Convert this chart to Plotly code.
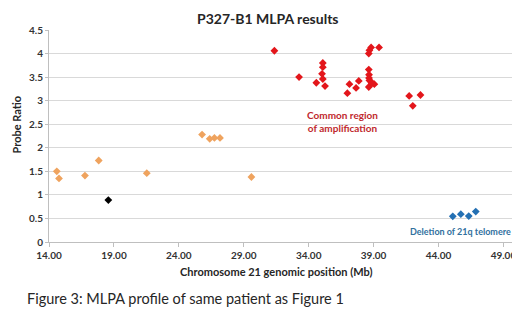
import plotly.graph_objects as go

orange_x = [14.6, 14.77, 16.77, 17.83, 21.53, 25.79, 26.38, 26.74, 27.17, 29.59]
orange_y = [1.50, 1.35, 1.41, 1.73, 1.46, 2.28, 2.19, 2.21, 2.21, 1.38]

black_x = [18.57]
black_y = [0.89]

red_x = [31.36, 33.26, 35.09, 35.09, 35.03, 35.09, 34.59, 35.26, 36.98, 37.14, 37.65,
         37.86, 38.63, 38.63, 38.65, 38.65, 38.68, 38.81, 39.06, 38.86, 38.63, 38.68,
         38.81, 39.42, 41.74, 42.02, 42.61]
red_y = [4.06, 3.50, 3.80, 3.71, 3.57, 3.46, 3.38, 3.31, 3.16, 3.35, 3.27,
         3.42, 3.29, 3.66, 3.55, 3.48, 3.43, 3.40, 3.35, 3.36, 4.00, 4.07,
         4.13, 4.13, 3.10, 2.89, 3.12]

blue_x = [45.10, 45.72, 46.33, 46.87]
blue_y = [0.545, 0.59, 0.55, 0.645]

x_ticks = [14, 19, 24, 29, 34, 39, 44, 49]
y_ticks = [0, 0.5, 1, 1.5, 2, 2.5, 3, 3.5, 4, 4.5]

FONT = "Lato, 'Open Sans', sans-serif"

fig = go.Figure()
for xs, ys, col in [(orange_x, orange_y, "#EFA35E"), (black_x, black_y, "#000000"),
                    (red_x, red_y, "#E3161B"), (blue_x, blue_y, "#2470B3")]:
    fig.add_trace(go.Scatter(x=xs, y=ys, mode="markers",
                             marker=dict(symbol="diamond", size=6, color=col, line=dict(width=0)),
                             showlegend=False))

OFF = 8  # page body margin
W, H = 520 - OFF, 315 - OFF
PL, PT, PW, PH = 49 - OFF, 30 - OFF, 470, 212

fig.update_layout(
    template="none",
    width=W, height=H,
    margin=dict(l=PL, r=W - PL - PW, t=PT, b=H - PT - PH, autoexpand=False),
    paper_bgcolor="white", plot_bgcolor="white",
    font=dict(family=FONT, color="#262626"),
    xaxis=dict(range=[14, 50.2], tickvals=x_ticks, tickformat=".2f", automargin=False,
               ticklabeloverflow="allow",
               showgrid=False, zeroline=False, showline=True, linecolor="#bfbfbf",
               ticks="outside", ticklen=4, tickcolor="#bfbfbf",
               tickfont=dict(size=10, family=FONT, color="#333333", weight="bold")),
    yaxis=dict(range=[0, 4.5], tickvals=y_ticks, tickformat="~g", automargin=False,
               showgrid=True, gridcolor="#d9d9d9", zeroline=False,
               showline=True, linecolor="#bfbfbf",
               ticks="outside", ticklen=3, tickcolor="#bfbfbf",
               tickfont=dict(size=10, family=FONT, color="#333333", weight="bold")),
)

def px(x):
    return (x - OFF - PL) / PW

def py(y):
    return (PT + PH - (y - OFF)) / PH

fig.add_annotation(text="<b>P327-B1 MLPA results</b>", xref="paper", yref="paper",
                   x=px(268), y=py(8), showarrow=False,
                   font=dict(size=14, color="#262626", family=FONT), xanchor="center", yanchor="top")
fig.add_annotation(text="<b>Chromosome 21 genomic position (Mb)</b>", xref="paper", yref="paper",
                   x=px(276), y=py(271), showarrow=False,
                   font=dict(size=11, color="#262626", family=FONT), xanchor="center", yanchor="middle")
fig.add_annotation(text="<b>Probe Ratio</b>", xref="paper", yref="paper", textangle=-90,
                   x=px(8), y=py(125), showarrow=False,
                   font=dict(size=11, color="#262626", family=FONT), xanchor="left", yanchor="middle")
fig.add_annotation(text="Figure 3: MLPA profile of same patient as Figure 1", xref="paper", yref="paper",
                   x=px(25), y=py(298), showarrow=False,
                   font=dict(size=14.5, color="#262626", family=FONT), xanchor="left", yanchor="middle")
fig.add_annotation(text="<b>Common region<br>of amplification</b>", x=36.6, y=2.55,
                   showarrow=False, align="center",
                   font=dict(size=10, color="#C0282D", family=FONT))
fig.add_annotation(text="<b>Deletion of 21q telomere</b>", x=45.66, y=0.22,
                   showarrow=False, align="center",
                   font=dict(size=9, color="#31709E", family=FONT))

fig.write_html("out.html")
